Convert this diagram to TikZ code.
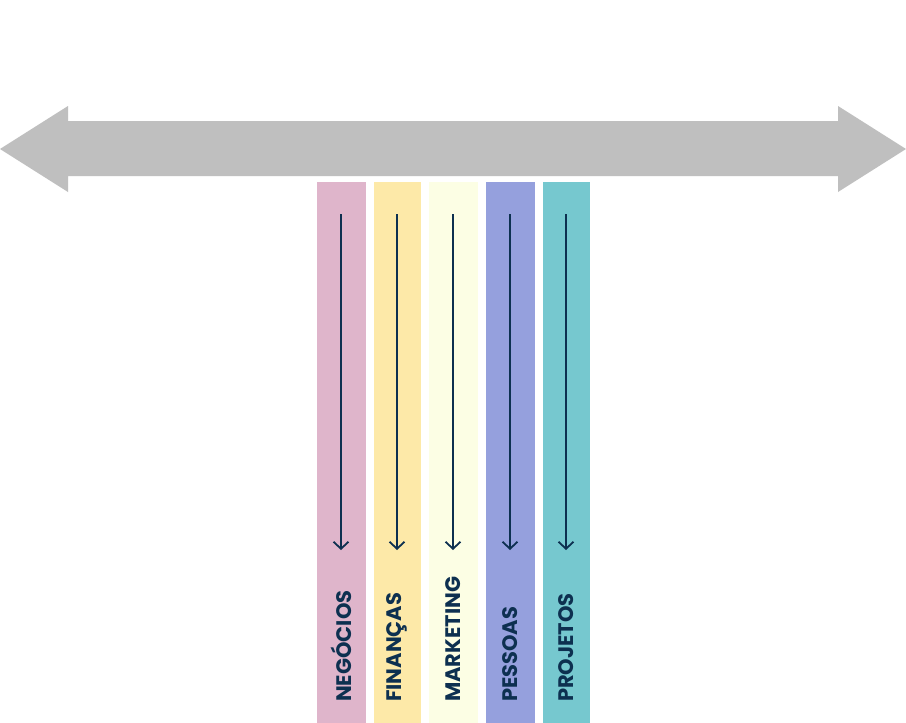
\documentclass[tikz,border=0pt]{standalone}
\usepackage{fontspec}
\setmainfont{Poppins}
\usetikzlibrary{arrows.meta}
\definecolor{cgray}{HTML}{BFBFBF}
\definecolor{cpink}{HTML}{DFB5CB}
\definecolor{cyellow}{HTML}{FDE9A8}
\definecolor{ccream}{HTML}{FCFEE4}
\definecolor{cpurple}{HTML}{95A0DD}
\definecolor{cteal}{HTML}{76C8CF}
\definecolor{cnavy}{HTML}{0D3050}
\begin{document}
\begin{tikzpicture}[x=1pt,y=-1pt,
  bar/.style={draw=none,minimum width=#1,minimum height=541pt,inner sep=0pt,anchor=north west},
  lbl/.style={text=cnavy,font=\fontsize{21}{21}\selectfont\bfseries,rotate=90,anchor=west,inner sep=0pt},
  flow/.style={draw=cnavy,line width=1.8pt,-{Straight Barb[length=7pt,width=15pt,line width=1.8pt]}}]
\useasboundingbox (0,0) rectangle (906,723);
\fill[white] (0,0) rectangle (906,723);
% double arrow
\fill[cgray] (0,149) -- (68,106) -- (68,121) -- (838,121) -- (838,106) -- (906,149) -- (838,192) -- (838,176) -- (68,176) -- (68,192) -- cycle;
% bars
\node[bar=49pt,fill=cpink] (b1) at (317,182) {};
\node[bar=47pt,fill=cyellow] (b2) at (374,182) {};
\node[bar=49pt,fill=ccream] (b3) at (429,182) {};
\node[bar=49pt,fill=cpurple] (b4) at (486,182) {};
\node[bar=47pt,fill=cteal] (b5) at (543,182) {};
% lines
\foreach \i/\x in {1/341,2/397,3/453,4/510,5/566}{
  \coordinate (s\i) at (\x,214);
  \coordinate (e\i) at (\x,550);
  \draw[flow] (s\i) -- (e\i);
}
% labels
\node[lbl] (t1) at (341,702) {NEGÓCIOS};
\node[lbl] (t2) at (397,702) {FINANÇAS};
\node[lbl] (t3) at (453,702) {MARKETING};
\node[lbl] (t4) at (510,702) {PESSOAS};
\node[lbl] (t5) at (566,702) {PROJETOS};
\end{tikzpicture}
\end{document}
